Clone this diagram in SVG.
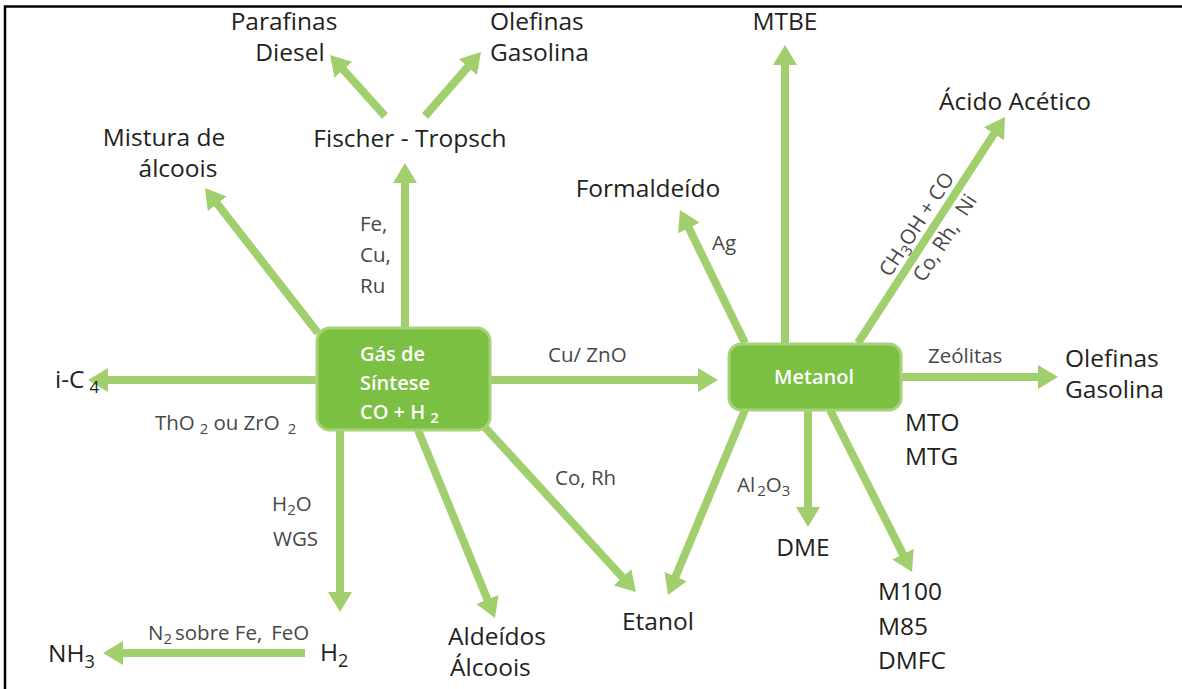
<svg xmlns="http://www.w3.org/2000/svg" width="1182" height="689" viewBox="0 0 1182 689">
  <style>
    .arr { stroke: #a1cf6e; stroke-width: 8; fill: none; marker-end: url(#head); }
    .lbl { font-family: "Open Sans", "Noto Sans", sans-serif; font-size: 24.5px; fill: #231f20; }
    .cat { font-family: "Open Sans", "Noto Sans", sans-serif; font-size: 20.5px; fill: #474747; }
    .box { fill: #7bbf43; stroke: #a6d27a; stroke-width: 3; }
    .boxt { font-family: "Open Sans", "Noto Sans", sans-serif; font-size: 20px; font-weight: 600; fill: #ffffff; }
    .sub { font-size: 15px; }
  </style>
  <defs>
    <marker id="head" viewBox="0 0 20 24" refX="10" refY="12" markerWidth="20" markerHeight="24" markerUnits="userSpaceOnUse" orient="auto">
      <path d="M0,0 L20,12 L0,24 Z" fill="#a1cf6e"/>
    </marker>
  </defs>

  <rect width="1182" height="689" fill="#ffffff"/>
  <!-- frame -->
  <path d="M5,689 V6.5 H1182" fill="none" stroke="#000000" stroke-width="2.5"/>

  <g id="connectors">
    <!-- from synthesis gas -->
    <line class="arr" x1="405" y1="328" x2="405" y2="173"/>
    <line class="arr" x1="318" y1="333" x2="211.1" y2="195.9"/>
    <line class="arr" x1="316" y1="380" x2="98" y2="380"/>
    <line class="arr" x1="340" y1="430" x2="340" y2="602"/>
    <line class="arr" x1="418" y1="430" x2="491.2" y2="608.7"/>
    <line class="arr" x1="480" y1="422" x2="629.2" y2="584.6"/>
    <line class="arr" x1="490" y1="380" x2="708" y2="380"/>
    <!-- Fischer-Tropsch products -->
    <line class="arr" x1="385" y1="116" x2="336.7" y2="62.4"/>
    <line class="arr" x1="425" y1="116" x2="474.4" y2="59.5"/>
    <!-- hydrogen to ammonia -->
    <line class="arr" x1="305" y1="653" x2="113" y2="653"/>
    <!-- from methanol -->
    <line class="arr" x1="785" y1="343" x2="785" y2="55"/>
    <line class="arr" x1="745" y1="343" x2="684.4" y2="219"/>
    <line class="arr" x1="858" y1="343" x2="999.5" y2="125.4"/>
    <line class="arr" x1="902" y1="377" x2="1048" y2="377"/>
    <line class="arr" x1="808" y1="410" x2="808" y2="517"/>
    <line class="arr" x1="830" y1="410" x2="907.5" y2="563.1"/>
    <line class="arr" x1="745" y1="410" x2="671.8" y2="585.8"/>
  </g>

  <g id="gas-sintese">
    <rect class="box" x="317" y="328" width="173" height="102" rx="13"/>
    <text class="boxt" x="360" y="361">Gás de<tspan x="360" dy="29">Síntese</tspan><tspan x="360" dy="29">CO + H</tspan><tspan class="sub" dx="5" dy="4">2</tspan></text>
  </g>

  <g id="metanol">
    <rect class="box" x="729" y="344" width="172" height="66" rx="12"/>
    <text class="boxt" x="814" y="384" text-anchor="middle">Metanol</text>
  </g>

  <g id="fischer-tropsch">
    <text class="lbl" x="410" y="147" text-anchor="middle">Fischer - Tropsch</text>
  </g>
  <g id="parafinas">
    <text class="lbl" x="284" y="30" text-anchor="middle">Parafinas<tspan x="290" dy="31">Diesel</tspan></text>
  </g>
  <g id="olefinas-ft">
    <text class="lbl" x="490" y="30">Olefinas<tspan x="490" dy="31">Gasolina</tspan></text>
  </g>
  <g id="mistura">
    <text class="lbl" x="164" y="146" text-anchor="middle">Mistura de<tspan x="178" dy="31">álcoois</tspan></text>
  </g>
  <g id="ic4">
    <text class="lbl" x="55" y="388">i-C<tspan dx="5" dy="5" font-size="17">4</tspan></text>
  </g>
  <g id="h2">
    <text class="lbl" x="320" y="661">H<tspan dy="6" font-size="18">2</tspan></text>
  </g>
  <g id="nh3">
    <text class="lbl" x="48" y="662">NH<tspan dy="6" font-size="18">3</tspan></text>
  </g>
  <g id="aldeidos">
    <text class="lbl" x="448" y="645">Aldeídos<tspan x="450" dy="31">Álcoois</tspan></text>
  </g>
  <g id="etanol">
    <text class="lbl" x="622" y="630">Etanol</text>
  </g>
  <g id="mtbe">
    <text class="lbl" x="785" y="30" text-anchor="middle">MTBE</text>
  </g>
  <g id="formaldeido">
    <text class="lbl" x="648" y="197" text-anchor="middle">Formaldeído</text>
  </g>
  <g id="acido-acetico">
    <text class="lbl" x="1015" y="110" text-anchor="middle">Ácido Acético</text>
  </g>
  <g id="olefinas-mtg">
    <text class="lbl" x="1065" y="367">Olefinas<tspan x="1065" dy="31">Gasolina</tspan></text>
    <text class="lbl" x="905" y="431">MTO<tspan x="905" dy="34">MTG</tspan></text>
  </g>
  <g id="dme">
    <text class="lbl" x="803" y="556" text-anchor="middle">DME</text>
  </g>
  <g id="m100">
    <text class="lbl" x="878" y="600">M100<tspan x="878" dy="35">M85</tspan><tspan x="878" dy="34">DMFC</tspan></text>
  </g>

  <g id="labels">
    <text class="cat" x="360" y="231">Fe,<tspan x="360" dy="31">Cu,</tspan><tspan x="360" dy="31">Ru</tspan></text>
    <text class="cat" x="548" y="362">Cu/ ZnO</text>
    <text class="cat" x="155" y="430">ThO<tspan class="sub" dx="5" dy="4">2</tspan><tspan dx="5" dy="-4">ou ZrO</tspan><tspan class="sub" dx="8" dy="4">2</tspan></text>
    <text class="cat" x="272" y="511">H<tspan class="sub" dy="4">2</tspan><tspan dy="-4">O</tspan><tspan x="273" dy="35">WGS</tspan></text>
    <text class="cat" x="148" y="640" font-size="17.5">N<tspan class="sub" font-size="13" dy="4">2</tspan><tspan dx="3" dy="-4">sobre Fe,</tspan><tspan dx="9">FeO</tspan></text>
    <text class="cat" x="555" y="485">Co, Rh</text>
    <text class="cat" x="712" y="250">Ag</text>
    <text class="cat" x="928" y="363">Zeólitas</text>
    <text class="cat" x="737" y="492">Al<tspan class="sub" dx="2" dy="4">2</tspan><tspan dy="-4">O</tspan><tspan class="sub" dy="4">3</tspan></text>
    <g transform="translate(930,233) rotate(-57)">
      <text class="cat" x="0" y="-9" text-anchor="middle" font-size="19">CH<tspan class="sub" dy="4">3</tspan><tspan dy="-4">OH + CO</tspan></text>
      <text class="cat" x="4" y="22" text-anchor="middle" font-size="17.5">Co, Rh,<tspan dx="12">Ni</tspan></text>
    </g>
  </g>
</svg>
